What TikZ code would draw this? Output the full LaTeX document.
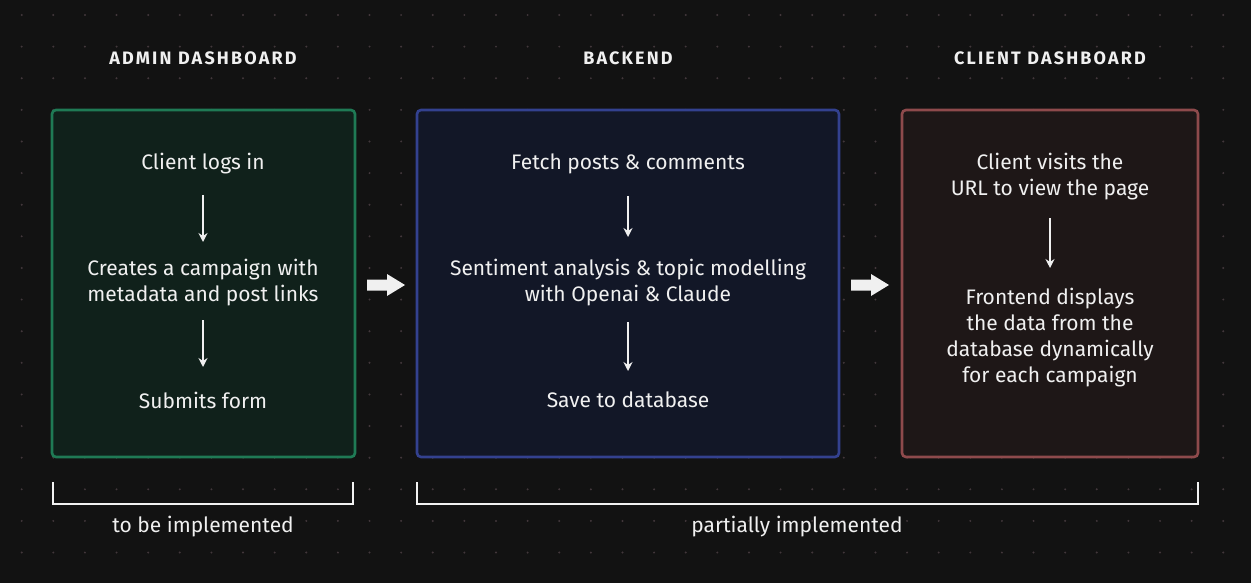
\documentclass[tikz,border=0pt]{standalone}
\usepackage{fontspec}
\setmainfont{Fira Sans}
\usetikzlibrary{arrows.meta}
\definecolor{bg}{HTML}{121212}
\definecolor{griddot}{HTML}{42373B}
\definecolor{gborder}{HTML}{1F7A55}
\definecolor{gfill}{HTML}{10211B}
\definecolor{bborder}{HTML}{33418F}
\definecolor{bfill}{HTML}{121727}
\definecolor{rborder}{HTML}{8E4A4C}
\definecolor{rfill}{HTML}{1E1717}
\definecolor{ink}{HTML}{F0F0F0}
\tikzset{
  panel/.style={line width=2.6pt, rounded corners=4pt},
  body/.style={text=ink, font=\fontsize{21}{26}\selectfont, align=center, inner sep=0pt},
  head/.style={text=ink, font=\fontsize{18}{20}\selectfont\bfseries\addfontfeatures{LetterSpace=12}, inner sep=0pt},
  note/.style={text=ink, font=\fontsize{21}{22}\selectfont, inner sep=0pt},
  flow/.style={draw=ink, line width=1.6pt, -{Stealth[length=9pt,width=9pt,inset=3pt]}},
  brace/.style={draw=ink!85, line width=1.4pt},
  bigarrow/.style={fill=ink, draw=none}
}
\begin{document}
\begin{tikzpicture}[x=1pt,y=-1pt]
\fill[bg] (0,0) rectangle (1251,583);
\useasboundingbox (0,0) rectangle (1251,583);
% dot grid
\foreach \i in {0,...,39}{
  \foreach \j in {0,...,18}{
    \fill[griddot] ({21.7+31.62*\i},{15+31.62*\j}) circle (1.1pt);
  }
}
% headings
\node[head] (h1) at (203,58) {ADMIN DASHBOARD};
\node[head] (h2) at (628,58) {BACKEND};
\node[head] (h3) at (1050,58) {CLIENT DASHBOARD};
% panels
\draw[panel, draw=gborder, fill=gfill] (52,110) rectangle (355,457);
\draw[panel, draw=bborder, fill=bfill] (417,110) rectangle (839,457);
\draw[panel, draw=rborder, fill=rfill] (902,110) rectangle (1198,457);
% panel 1
\node[body] (a1) at (203,164) {Client logs in};
\node[body] (a2) at (203,283) {Creates a campaign with\\metadata and post links};
\node[body] (a3) at (203,400) {Submits form};
\draw[flow] (a1) ++(0,31) -- ++(0,47);
\draw[flow] (a2) ++(0,37) -- ++(0,47);
% panel 2
\node[body] (b1) at (628,164) {Fetch posts \& comments};
\node[body] (b2) at (628,283) {Sentiment analysis \& topic modelling\\with Openai \& Claude};
\node[body] (b3) at (628,400) {Save to database};
\draw[flow] (b1) ++(0,32) -- ++(0,41);
\draw[flow] (b2) ++(0,39) -- ++(0,49);
% panel 3
\node[body] (c1) at (1050,177) {Client visits the\\URL to view the page};
\node[body] (c2) at (1050,337.5) {Frontend displays\\the data from the\\database dynamically\\for each campaign};
\draw[flow] (c1) ++(0,41) -- ++(0,50);
% block arrows
\coordinate (k1) at (367,285);
\coordinate (k2) at (851,285);
\foreach \k in {k1,k2}{
  \fill[bigarrow] (\k) ++(0,-5.5) -- ++(20,0) -- ++(0,-5.5) -- ++(18,11) -- ++(-18,11) -- ++(0,-5.5) -- ++(-20,0) -- cycle;
}
% brackets
\draw[brace] (53,482) -- (53,504) -- (353,504) -- (353,482);
\draw[brace] (417,482) -- (417,504) -- (1198,504) -- (1198,482);
\node[note] (l1) at (203,527) {to be implemented};
\node[note] (l2) at (797,527) {partially implemented};
\end{tikzpicture}
\end{document}
